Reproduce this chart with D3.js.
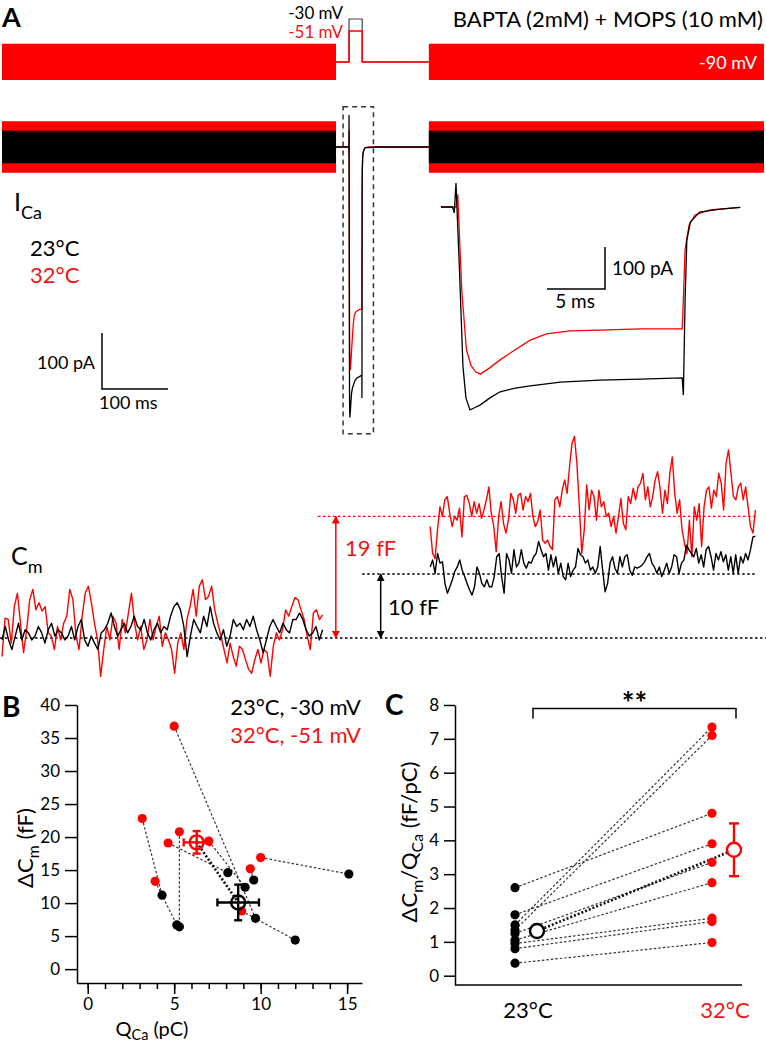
<!DOCTYPE html>
<html><head><meta charset="utf-8">
<script src="https://cdn.jsdelivr.net/npm/d3@7/dist/d3.min.js"></script>
<style>html,body{margin:0;padding:0;background:#fff}svg{display:block}text{font-family:Lato,'Open Sans',sans-serif}</style>
</head><body>
<script>
// ---------------- DATA ----------------
// Panel A timing (ms, 0 = pulse onset)
const stimBands = [[-526, -19.7], [121, 629]];
const holdV = -90, stepV23 = -30, stepV32 = -51, stimAmpV = 23, pulseDur = 20;
const bandAmp32 = 46, bandAmp23 = 29; // pA envelope of sine stimulation
// ICa during the pulse, [t ms, pA]
const iCa23 = [[-19.7,0],[-0.3,0],[-0.15,-14],[0,57],[0.3,-150],[0.6,-380],[0.86,-455],[1.2,-483],[1.6,-478],[2.1,-471],[2.9,-455],[3.8,-440],[5.1,-431],[6.4,-426],[9.0,-417],[12.4,-412],[15.9,-410],[19.5,-407],[19.6,-448],[19.75,-221],[19.9,-79],[20.2,-36],[21.0,-12],[22.8,-5],[24.5,-1],[30,-1],[40,0],[121,0]];
const iCa32 = [[-19.7,0],[0,0],[0.15,30],[0.5,-200],[0.9,-340],[1.3,-378],[1.7,-393],[2.1,-398],[2.9,-383],[3.8,-364],[5.1,-340],[6.4,-317],[7.8,-302],[9.8,-295],[12.4,-293],[15.9,-290],[19.5,-290],[19.6,-221],[19.75,-100],[20.1,-43],[20.6,-19],[21.9,-7],[24.5,-1],[30,0],[121,0]];
const insetRange = [-1.3, 24.5];
// Cm traces (fF), before and after the pulse
const cmWinPre = [-526, -40], cmWinPost = [123, 616];
const cm32Pre = [-2.9,3.1,2.9,-0.8,4.9,7.0,2.3,-2.3,1.3,6.0,7.6,4.4,5.5,4.2,4.9,0.8,0.3,-1.8,1.8,-0.3,2.3,3.4,7.6,6.0,0.3,-1.8,3.4,7.0,8.1,5.5,2.3,-0.3,-6.0,-1.8,1.8,-0.3,3.4,2.3,-1.8,2.9,0.8,3.9,7.0,2.3,-0.3,1.8,-1.8,-0.3,2.9,-0.3,1.8,3.4,-1.3,0.8,-0.3,-1.8,-5.5,-0.8,0.8,-1.8,2.9,4.9,7.6,3.4,8.1,9.1,6.0,6.5,8.1,4.4,2.3,0.3,-1.8,-3.9,-0.8,-2.9,-4.4,-1.3,-1.8,-3.4,-4.9,-5.5,-3.4,-1.8,-3.9,-1.8,-2.3,-6.0,-1.3,0.8,-0.3,1.3,4.4,3.4,4.9,6.3,6.0,4.4,2.9,0.3,-1.8,3.9,4.4,2.9,3.6];
const cm23Pre = [-0.3,1.8,-0.3,-1.8,0.3,2.3,-0.3,1.3,0.8,-0.3,0.3,1.8,0.8,-0.8,1.3,2.3,0.3,1.3,0.8,-0.3,0.3,1.8,-0.3,1.8,2.9,-0.3,-1.3,0.3,-0.8,-1.8,0.8,1.3,2.3,3.9,1.8,0.3,1.3,2.3,0.8,1.8,3.4,1.8,1.3,2.9,0.8,-0.3,1.3,2.3,0.8,1.8,1.3,3.4,4.9,5.5,4.4,1.8,-2.9,0.3,2.9,1.8,0.8,3.4,1.8,4.9,2.3,0.8,-0.3,1.3,-1.3,0.3,2.9,1.8,2.3,1.3,2.9,1.8,3.4,1.3,-0.3,-2.3,-0.3,1.8,2.9,1.8,0.8,2.3,1.3,0.8,2.9,2.9,3.9,2.9,1.3,0.3,0.8,1.8,-0.3,1.3];
const cm32Post = [17.4,13.2,12.4,16.9,20.5,19.0,21.6,22.1,19.5,17.4,19.0,18.4,20.3,15.8,22.1,22.3,21.0,19.0,21.3,19.5,21.0,18.7,20.0,21.6,23.6,19.5,17.4,13.5,19.0,21.3,17.9,16.4,18.4,22.6,21.6,19.5,22.3,22.6,20.0,22.1,21.3,22.6,19.0,17.4,18.2,20.0,15.3,14.8,15.3,14.3,13.8,21.6,22.1,20.5,23.1,24.7,22.6,26.8,30.4,31.5,27.3,20.5,13.2,16.9,23.9,20.0,23.1,22.1,18.4,23.1,20.5,21.3,19.0,19.5,17.4,19.0,16.4,19.0,21.8,17.9,16.9,22.1,21.0,23.4,21.6,23.6,24.2,25.7,21.6,23.6,20.5,22.1,24.7,26.0,23.4,19.5,23.1,21.0,25.7,28.3,22.6,19.5,21.6,16.9,14.8,13.2,18.4,12.7,20.5,18.4,21.0,14.3,20.5,23.1,23.6,20.3,23.1,22.1,25.7,24.2,20.0,27.3,29.4,25.7,22.1,21.6,23.6,24.2,21.6,23.6,20.5,17.4,16.4,20.0];
const cm23Post = [11.1,12.2,10.1,13.2,11.7,11.9,8.5,7.0,8.0,9.1,10.4,11.1,12.2,10.6,9.6,8.5,7.5,6.7,8.0,11.1,10.1,8.5,8.0,9.1,8.0,8.0,9.6,12.7,13.2,9.6,7.0,13.2,12.2,10.1,13.8,11.1,11.7,13.8,11.7,10.9,11.9,11.7,12.7,13.2,15.1,13.8,12.7,13.2,10.6,13.0,11.1,12.7,10.1,11.7,9.6,9.1,11.7,9.6,10.6,11.1,14.0,13.0,12.7,11.7,12.2,10.6,11.1,10.1,11.1,14.3,10.6,7.2,8.5,11.7,12.7,10.9,10.1,12.7,11.1,12.7,13.0,10.6,9.8,11.1,10.9,11.1,11.4,11.9,12.7,13.2,11.7,11.1,10.1,11.1,9.6,10.6,11.7,10.1,11.1,13.0,12.7,10.1,11.7,12.2,14.5,13.8,13.2,12.7,14.0,11.7,13.0,11.1,13.8,14.3,12.7,10.6,13.2,12.2,13.5,11.9,13.0,10.6,12.7,10.1,13.0,10.1,12.7,11.7,13.2,12.2,13.8,15.8,15.9];
const dCm23Mean = 10, dCm32Mean = 19;
// Panel B: per-cell QCa (pC) and dCm (fF), paired by index
const q32 = [5.0, 3.15, 3.9, 5.3, 4.65, 7.0, 10.0, 9.4, 8.9];
const c32 = [36.8, 22.8, 13.3, 20.8, 19.1, 19.4, 16.9, 15.2, 8.8];
const q23 = [9.7, 4.3, 5.15, 5.3, 8.1, 9.1, 15.1, 9.6, 12.0];
const c23 = [7.7, 11.2, 6.7, 6.4, 14.6, 12.4, 14.4, 13.5, 4.4];
const meanB23 = {q: 8.7, qe: 1.2, c: 10.1, ce: 2.7};
const meanB32 = {q: 6.3, qe: 0.75, c: 19.2, ce: 1.7};
const bTicksY = [0,5,10,15,20,25,30,35,40];
const bTicksX = [0,5,10,15];
// Panel C: dCm/QCa (fF/pC), paired
const groupsC = ["23°C", "32°C"];
const eff23 = [2.6, 1.5, 1.35, 1.8, 1.25, 1.05, 0.95, 0.8, 0.37];
const eff32 = [4.8, 7.35, 7.1, 3.9, 3.35, 2.75, 1.7, 1.6, 0.98];
const meanC23 = {m: 1.32, e: 0.15}, meanC32 = {m: 3.72, e: 0.78};
const cTicksY = [0,1,2,3,4,5,6,7,8];

// ---------------- DRAW ----------------
const W = 766, H = 1043;
const RED = "#ff0000", TRED = "#f01515";
const svg = d3.select("body").append("svg").attr("width", W).attr("height", H);
svg.append("rect").attr("width", W).attr("height", H).attr("fill", "#fff");
const defs = svg.append("defs");
function marker(id, col) {
  defs.append("marker").attr("id", id).attr("viewBox", "0 0 10 10").attr("refX", 9).attr("refY", 5)
    .attr("markerWidth", 8).attr("markerHeight", 9).attr("markerUnits", "userSpaceOnUse")
    .attr("orient", "auto-start-reverse")
    .append("path").attr("d", "M0,0 L10,5 L0,10 Z").attr("fill", col);
}
marker("arR", RED); marker("arK", "#000");

function txt(g, x, y, s, o = {}) {
  const t = g.append("text").attr("x", x).attr("y", y).attr("font-size", o.size || 18)
    .attr("fill", o.fill || "#000").attr("text-anchor", o.anchor || "start");
  if (o.weight) t.attr("font-weight", o.weight);
  t.text(s);
  return t;
}
// segs: [[text, isSubscript], ...]
function rich(g, x, y, segs, o = {}) {
  const size = o.size || 20, sd = o.subDy || 6;
  const t = g.append("text").attr("x", x).attr("y", y).attr("font-size", size)
    .attr("fill", o.fill || "#000").attr("text-anchor", o.anchor || "start");
  if (o.transform) t.attr("transform", o.transform);
  let cur = 0;
  segs.forEach(([s, sub]) => {
    const target = sub ? sd : 0;
    const ts = t.append("tspan").attr("dy", target - cur).text(s);
    if (sub) ts.attr("font-size", size * 0.72);
    cur = target;
  });
  return t;
}

// ===== Panel A =====
const gA = svg.append("g");
const tx = d3.scaleLinear().domain([-526, 629]).range([2, 764]);
const vy = d3.scaleLinear().domain([-113, -90, -51, -30]).range([80, 62, 31, 19]);
const iy = d3.scaleLinear().domain([0, 100]).range([147, 91]);
const line = d3.line();

stimBands.forEach(b => {
  gA.append("rect").attr("x", tx(b[0])).attr("width", tx(b[1]) - tx(b[0]))
    .attr("y", vy(holdV + stimAmpV)).attr("height", vy(holdV - stimAmpV) - vy(holdV + stimAmpV)).attr("fill", RED);
});
function vPath(vs) {
  return [[stimBands[0][1], holdV], [0, holdV], [0, vs], [pulseDur, vs], [pulseDur, holdV], [stimBands[1][0], holdV]]
    .map(d => [tx(d[0]), vy(d[1])]);
}
gA.append("path").attr("d", line(vPath(stepV23))).attr("fill", "none").attr("stroke", "#444").attr("stroke-width", 1.2);
gA.append("path").attr("d", line(vPath(stepV32))).attr("fill", "none").attr("stroke", RED).attr("stroke-width", 1.5);
txt(gA, 2, 27, "A", {size: 27, weight: "bold"});
txt(gA, 343, 19, "-30 mV", {size: 17, anchor: "end"});
txt(gA, 343, 38, "-51 mV", {size: 17, anchor: "end", fill: TRED});
txt(gA, 763, 27, "BAPTA (2mM) + MOPS (10 mM)", {size: 22, anchor: "end"});
txt(gA, 757, 69, "-90 mV", {size: 18, anchor: "end", fill: "#fff"});

stimBands.forEach(b => {
  gA.append("rect").attr("x", tx(b[0])).attr("width", tx(b[1]) - tx(b[0]))
    .attr("y", iy(bandAmp32)).attr("height", iy(-bandAmp32) - iy(bandAmp32)).attr("fill", RED);
  gA.append("rect").attr("x", tx(b[0])).attr("width", tx(b[1]) - tx(b[0]))
    .attr("y", iy(bandAmp23)).attr("height", iy(-bandAmp23) - iy(bandAmp23)).attr("fill", "#000");
});
gA.append("path").attr("d", line(iCa32.map(d => [tx(d[0]), iy(d[1])]))).attr("fill", "none").attr("stroke", RED).attr("stroke-width", 1.3);
gA.append("path").attr("d", line(iCa23.map(d => [tx(d[0]), iy(d[1])]))).attr("fill", "none").attr("stroke", "#000").attr("stroke-width", 1.3);
gA.append("rect").attr("x", tx(-9)).attr("y", iy(72)).attr("width", tx(37) - tx(-9)).attr("height", iy(-512) - iy(72))
  .attr("fill", "none").attr("stroke", "#333").attr("stroke-width", 1.5).attr("stroke-dasharray", "5,4");
const sbx = 102, sby = 389;
gA.append("path").attr("d", `M${sbx},${sby - (iy(0) - iy(100))}V${sby}H${sbx + tx(100) - tx(0)}`).attr("fill", "none").attr("stroke", "#000").attr("stroke-width", 1.5);
txt(gA, 95, 369, "100 pA", {size: 18, anchor: "end"});
txt(gA, 99, 409, "100 ms", {size: 18});
rich(gA, 14, 211, [["I", false], ["Ca", true]], {size: 25, subDy: 8});
txt(gA, 30, 256, "23°C", {size: 22});
txt(gA, 30, 283, "32°C", {size: 22, fill: TRED});

const itx = d3.scaleLinear().domain([0, 5]).range([456, 514]);
const iiy = d3.scaleLinear().domain([0, -100]).range([207, 249]);
const inWin = d => d[0] >= insetRange[0] && d[0] <= insetRange[1];
function clipInset(arr) {
  const a = arr.filter(inWin);
  a.unshift([insetRange[0], 0]);
  return a;
}
gA.append("path").attr("d", line(clipInset(iCa32).map(d => [itx(d[0]), iiy(d[1])]))).attr("fill", "none").attr("stroke", RED).attr("stroke-width", 1.3);
gA.append("path").attr("d", line(clipInset(iCa23).map(d => [itx(d[0]), iiy(d[1])]))).attr("fill", "none").attr("stroke", "#000").attr("stroke-width", 1.3);
const isx = 605, isy = 289;
gA.append("path").attr("d", `M${isx},${isy - (iiy(-100) - iiy(0))}V${isy}H${isx - (itx(5) - itx(0))}`).attr("fill", "none").attr("stroke", "#000").attr("stroke-width", 1.5);
txt(gA, 612, 275, "100 pA", {size: 19});
txt(gA, 575, 308, "5 ms", {size: 19, anchor: "middle"});

const cy = d3.scaleLinear().domain([0, 10]).range([638, 574]);
function cmPts(arr, win) {
  const n = arr.length;
  return arr.map((v, i) => [tx(win[0] + i * (win[1] - win[0]) / (n - 1)), cy(v)]);
}
gA.append("line").attr("x1", 0).attr("x2", W).attr("y1", cy(0)).attr("y2", cy(0)).attr("stroke", "#000").attr("stroke-width", 1.6).attr("stroke-dasharray", "2.5,2.5");
gA.append("line").attr("x1", tx(20)).attr("x2", tx(616)).attr("y1", cy(dCm23Mean)).attr("y2", cy(dCm23Mean)).attr("stroke", "#000").attr("stroke-width", 1.6).attr("stroke-dasharray", "2.5,2.5");
gA.append("line").attr("x1", tx(-47)).attr("x2", tx(620)).attr("y1", cy(dCm32Mean)).attr("y2", cy(dCm32Mean)).attr("stroke", RED).attr("stroke-width", 1.2).attr("stroke-dasharray", "2.5,2.5");
[[cm32Pre, cmWinPre, RED], [cm23Pre, cmWinPre, "#000"], [cm32Post, cmWinPost, RED], [cm23Post, cmWinPost, "#000"]]
  .forEach(([a, w, c]) => gA.append("path").attr("d", line(cmPts(a, w))).attr("fill", "none").attr("stroke", c).attr("stroke-width", 1.4).attr("stroke-linejoin", "round"));
gA.append("line").attr("x1", tx(-20)).attr("x2", tx(-20)).attr("y1", cy(dCm32Mean)).attr("y2", cy(0))
  .attr("stroke", RED).attr("stroke-width", 1.5).attr("marker-start", "url(#arR)").attr("marker-end", "url(#arR)");
gA.append("line").attr("x1", tx(48)).attr("x2", tx(48)).attr("y1", cy(dCm23Mean)).attr("y2", cy(0))
  .attr("stroke", "#000").attr("stroke-width", 1.5).attr("marker-start", "url(#arK)").attr("marker-end", "url(#arK)");
txt(gA, 345, 556, dCm32Mean + " fF", {size: 22, fill: TRED});
txt(gA, 388, 615, dCm23Mean + " fF", {size: 22});
rich(gA, 11, 565, [["C", false], ["m", true]], {size: 25, subDy: 8});

// ===== Panel B =====
const gB = svg.append("g");
const bx = d3.scaleLinear().domain([-0.62, 15.86]).range([77, 362]);
const by = d3.scaleLinear().domain([-2.1, 40]).range([983, 705]);
gB.append("g").attr("transform", "translate(77,0)")
  .call(d3.axisLeft(by).tickValues(bTicksY).tickSize(12).tickSizeOuter(0).tickPadding(5));
gB.append("g").attr("transform", "translate(0,983)")
  .call(d3.axisBottom(bx).tickValues(d3.range(0, 16, 1)).tickSize(6).tickSizeOuter(0).tickFormat(""));
gB.append("g").attr("transform", "translate(0,983)")
  .call(d3.axisBottom(bx).tickValues(bTicksX).tickSize(11).tickSizeOuter(0).tickPadding(4)).select(".domain").remove();
gB.selectAll(".domain, .tick line").attr("stroke", "#000").attr("stroke-width", 1.5);
gB.selectAll(".tick text").attr("font-size", 17).attr("font-family", "Lato").attr("fill", "#000");
const dashC = "#333";
q23.forEach((q, i) => {
  gB.append("line").attr("x1", bx(q32[i])).attr("y1", by(c32[i])).attr("x2", bx(q)).attr("y2", by(c23[i]))
    .attr("stroke", dashC).attr("stroke-width", 1.2).attr("stroke-dasharray", "2.5,2");
});
gB.append("line").attr("x1", bx(meanB32.q)).attr("y1", by(meanB32.c)).attr("x2", bx(meanB23.q)).attr("y2", by(meanB23.c))
  .attr("stroke", "#111").attr("stroke-width", 2.6).attr("stroke-dasharray", "2,2");
q23.forEach((q, i) => gB.append("circle").attr("cx", bx(q)).attr("cy", by(c23[i])).attr("r", 4.6).attr("fill", "#000"));
q32.forEach((q, i) => gB.append("circle").attr("cx", bx(q)).attr("cy", by(c32[i])).attr("r", 4.6).attr("fill", RED));
function meanMark(g, cx, cyv, x0, x1, y0, y1, col) {
  const p = g.append("g").attr("stroke", col).attr("stroke-width", 2.4).attr("fill", "none");
  p.append("line").attr("x1", x0).attr("x2", x1).attr("y1", cyv).attr("y2", cyv);
  p.append("line").attr("x1", cx).attr("x2", cx).attr("y1", y0).attr("y2", y1);
  p.append("line").attr("x1", x0).attr("x2", x0).attr("y1", cyv - 4).attr("y2", cyv + 4);
  p.append("line").attr("x1", x1).attr("x2", x1).attr("y1", cyv - 4).attr("y2", cyv + 4);
  p.append("line").attr("x1", cx - 4).attr("x2", cx + 4).attr("y1", y0).attr("y2", y0);
  p.append("line").attr("x1", cx - 4).attr("x2", cx + 4).attr("y1", y1).attr("y2", y1);
  p.append("circle").attr("cx", cx).attr("cy", cyv).attr("r", 7);
}
meanMark(gB, bx(meanB23.q), by(meanB23.c), bx(meanB23.q - meanB23.qe), bx(meanB23.q + meanB23.qe), by(meanB23.c + meanB23.ce), by(meanB23.c - meanB23.ce), "#000");
meanMark(gB, bx(meanB32.q), by(meanB32.c), bx(meanB32.q - meanB32.qe), bx(meanB32.q + meanB32.qe), by(meanB32.c + meanB32.ce), by(meanB32.c - meanB32.ce), RED);
txt(gB, 2, 717, "B", {size: 28, weight: "bold"});
txt(gB, 361, 715, "23°C, -30 mV", {size: 22, anchor: "end"});
txt(gB, 361, 743, "32°C, -51 mV", {size: 22, anchor: "end", fill: TRED});
rich(gB, 152, 1036, [["Q", false], ["Ca", true], [" (pC)", false]], {size: 20, anchor: "middle", subDy: 4});
rich(gB, 0, 0, [["ΔC", false], ["m", true], [" (fF)", false]], {size: 22, anchor: "middle", subDy: 6, transform: "translate(33,848) rotate(-90)"});

// ===== Panel C =====
const gC = svg.append("g");
const cyC = d3.scaleLinear().domain([-0.275, 8]).range([985, 705]);
const cxC = d3.scalePoint().domain(groupsC).range([528, 725]);
gC.append("g").attr("transform", "translate(455,0)")
  .call(d3.axisLeft(cyC).tickValues(cTicksY).tickSize(11).tickSizeOuter(0).tickPadding(5));
gC.append("line").attr("x1", 455).attr("x2", 742).attr("y1", 985).attr("y2", 985);
gC.selectAll(".domain, .tick line, line").attr("stroke", "#000").attr("stroke-width", 1.5);
gC.selectAll(".tick text").attr("font-size", 17).attr("font-family", "Lato").attr("fill", "#000");
const ptOff = -13, mOff = 9;
eff23.forEach((v, i) => gC.append("line").attr("x1", cxC(groupsC[0]) + ptOff).attr("y1", cyC(v)).attr("x2", cxC(groupsC[1]) + ptOff).attr("y2", cyC(eff32[i]))
  .attr("stroke", dashC).attr("stroke-width", 1.2).attr("stroke-dasharray", "2.5,2"));
gC.append("line").attr("x1", cxC(groupsC[0]) + mOff).attr("y1", cyC(meanC23.m)).attr("x2", cxC(groupsC[1]) + mOff).attr("y2", cyC(meanC32.m))
  .attr("stroke", "#111").attr("stroke-width", 2.6).attr("stroke-dasharray", "2,2");
eff23.forEach(v => gC.append("circle").attr("cx", cxC(groupsC[0]) + ptOff).attr("cy", cyC(v)).attr("r", 4.6).attr("fill", "#000"));
eff32.forEach(v => gC.append("circle").attr("cx", cxC(groupsC[1]) + ptOff).attr("cy", cyC(v)).attr("r", 4.6).attr("fill", RED));
function meanC(g, x, m, col) {
  const p = g.append("g").attr("stroke", col).attr("stroke-width", 2.4).attr("fill", "none");
  p.append("line").attr("x1", x).attr("x2", x).attr("y1", cyC(m.m + m.e)).attr("y2", cyC(m.m - m.e));
  p.append("line").attr("x1", x - 5).attr("x2", x + 5).attr("y1", cyC(m.m + m.e)).attr("y2", cyC(m.m + m.e));
  p.append("line").attr("x1", x - 5).attr("x2", x + 5).attr("y1", cyC(m.m - m.e)).attr("y2", cyC(m.m - m.e));
  p.append("circle").attr("cx", x).attr("cy", cyC(m.m)).attr("r", 7).attr("fill", "#fff");
}
meanC(gC, cxC(groupsC[0]) + mOff, meanC23, "#000");
meanC(gC, cxC(groupsC[1]) + mOff, meanC32, RED);
const bx0 = cxC(groupsC[0]) + 5, bx1 = cxC(groupsC[1]) + 11;
gC.append("path").attr("d", `M${bx0},${cyC(7.6)}V${cyC(7.9)}H${bx1}V${cyC(7.6)}`).attr("fill", "none").attr("stroke", "#000").attr("stroke-width", 1.5);
txt(gC, (bx0 + bx1) / 2, cyC(7.9) + 6, "**", {size: 30, anchor: "middle", weight: "bold"});
txt(gC, cxC(groupsC[0]), 1018, groupsC[0], {size: 22, anchor: "middle"});
txt(gC, cxC(groupsC[1]), 1018, groupsC[1], {size: 22, anchor: "middle", fill: TRED});
txt(gC, 385, 715, "C", {size: 28, weight: "bold"});
rich(gC, 0, 0, [["ΔC", false], ["m", true], ["/Q", false], ["Ca", true], [" (fF/pC)", false]], {size: 22, anchor: "middle", subDy: 6, transform: "translate(417,842) rotate(-90)"});
</script>
</body></html>
